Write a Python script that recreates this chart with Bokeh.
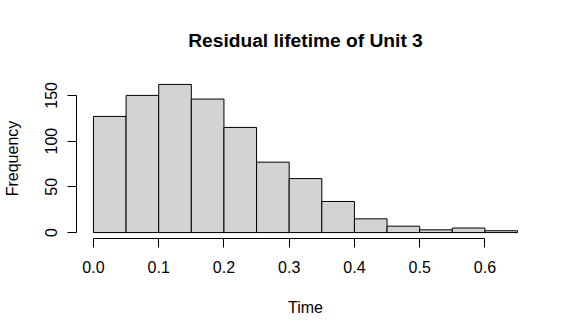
from bokeh.plotting import figure
from bokeh.models import Range1d, FixedTicker, PrintfTickFormatter
from bokeh.embed import file_html
from bokeh.resources import INLINE

# Histogram data (bin edges and counts)
bin_left = [0.00, 0.05, 0.10, 0.15, 0.20, 0.25, 0.30, 0.35, 0.40, 0.45, 0.50, 0.55, 0.60]
bin_right = [0.05, 0.10, 0.15, 0.20, 0.25, 0.30, 0.35, 0.40, 0.45, 0.50, 0.55, 0.60, 0.65]
counts = [127, 150, 162, 146, 115, 77, 59, 34, 15, 7, 3, 5, 2]
x_ticks = [0.0, 0.1, 0.2, 0.3, 0.4, 0.5, 0.6]
y_ticks = [0, 50, 100, 150]
title_text = "Residual lifetime of Unit 3"

FONT = "Liberation Sans"

p = figure(
    output_backend="svg", toolbar_location=None,
    frame_width=458, frame_height=160,
    min_border_left=74, min_border_right=29, min_border_top=77, min_border_bottom=83,
    x_range=Range1d(-0.026, 0.676), y_range=Range1d(-6.48, 168.48),
    title=title_text,
)

p.quad(left=bin_left, right=bin_right, bottom=0, top=counts,
       fill_color="#D3D3D3", line_color="black", line_width=1)

p.outline_line_color = None
p.xgrid.grid_line_color = None
p.ygrid.grid_line_color = None
p.background_fill_color = "white"
p.border_fill_color = "white"

p.title.text_font = FONT
p.title.text_font_size = "19.2px"
p.title.text_font_style = "bold"
p.title.align = "center"
p.title.text_color = "black"
p.title.standoff = 55

for ax in (p.xaxis[0], p.yaxis[0]):
    ax.axis_line_color = "black"
    ax.major_tick_line_color = "black"
    ax.minor_tick_line_color = None
    ax.major_tick_in = 0
    ax.major_tick_out = 9
    ax.major_label_text_font = FONT
    ax.major_label_text_font_size = "16px"
    ax.major_label_text_color = "black"
    ax.axis_label_text_font = FONT
    ax.axis_label_text_font_size = "16px"
    ax.axis_label_text_font_style = "normal"
    ax.axis_label_text_color = "black"

xa = p.xaxis[0]
xa.ticker = FixedTicker(ticks=x_ticks)
xa.formatter = PrintfTickFormatter(format="%.1f")
xa.bounds = (0, 0.6)
xa.axis_label = "Time"
xa.major_label_standoff = 13
xa.axis_label_standoff = 23

ya = p.yaxis[0]
ya.ticker = FixedTicker(ticks=y_ticks)
ya.bounds = (0, 150)
ya.axis_label = "Frequency"
ya.major_label_orientation = "vertical"
ya.major_label_standoff = 10
ya.axis_label_standoff = 22

open("out.html", "w").write(file_html(p, INLINE))
